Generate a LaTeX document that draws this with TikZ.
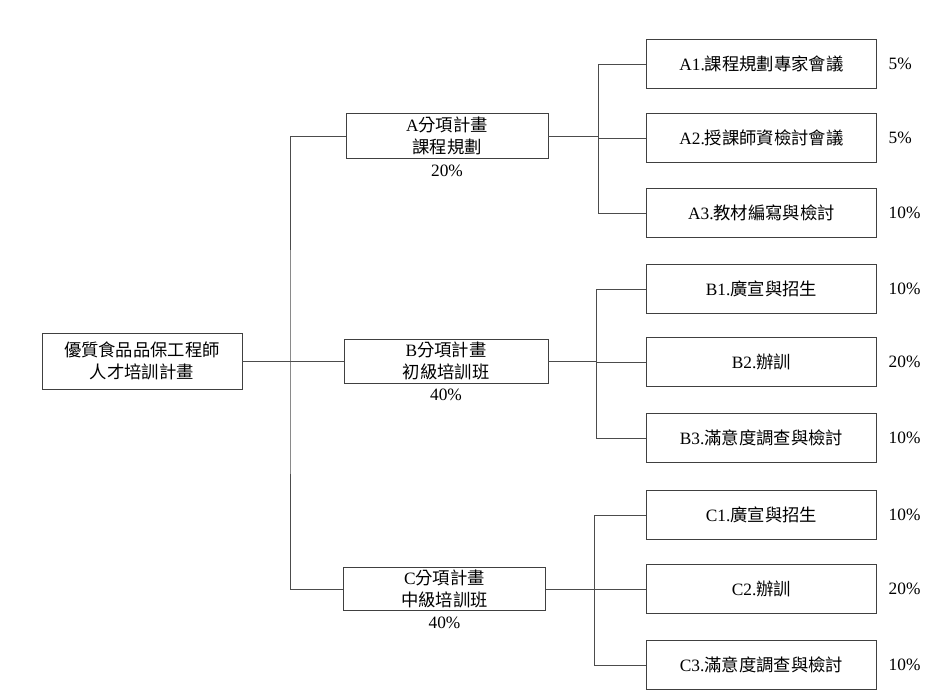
\documentclass[tikz,border=0pt]{standalone}
\usepackage{fontspec}
\setmainfont{Liberation Serif}
\newfontfamily\cjk{Noto Sans CJK TC}
\usetikzlibrary{positioning}

\begin{document}
\begin{tikzpicture}[x=0.75pt,y=0.75pt,yscale=-1,xscale=1,
  planbox/.style={draw=black!75,line width=0.6pt,inner sep=0pt,align=center,font=\fontsize{13}{16}\selectfont},
  pct/.style={font=\fontsize{13}{15}\selectfont},
  link/.style={draw=black!70,line width=0.6pt}]
%set diagram bounds
\useasboundingbox (0,0) rectangle (940,698);

% Root
\node [planbox,minimum width=150pt,minimum height=42pt] (root) at (142,361) {{\cjk 優質食品品保工程師}\\{\cjk 人才培訓計畫}};

% Sub plans
\node [planbox,minimum width=151.5pt,minimum height=34pt] (pa) at (447,136) {A{\cjk 分項計畫}\\{\cjk 課程規劃}};
\node [pct,below=1pt of pa] (pa-pct) {20\%};
\node [planbox,minimum width=153pt,minimum height=33pt] (pb) at (446,361) {B{\cjk 分項計畫}\\{\cjk 初級培訓班}};
\node [pct,below=1pt of pb] (pb-pct) {40\%};
\node [planbox,minimum width=152pt,minimum height=32pt] (pc) at (444.5,589) {C{\cjk 分項計畫}\\{\cjk 中級培訓班}};
\node [pct,below=1pt of pc] (pc-pct) {40\%};

% Work items
\foreach \name/\y/\lab/\p in {
  a1/64/A1.{\cjk 課程規劃專家會議}/5\%,
  a2/138/A2.{\cjk 授課師資檢討會議}/5\%,
  a3/213/A3.{\cjk 教材編寫與檢討}/10\%,
  b1/289/B1.{\cjk 廣宣與招生}/10\%,
  b2/362/B2.{\cjk 辦訓}/20\%,
  b3/438/B3.{\cjk 滿意度調查與檢討}/10\%,
  c1/515/C1.{\cjk 廣宣與招生}/10\%,
  c2/589/C2.{\cjk 辦訓}/20\%,
  c3/665/C3.{\cjk 滿意度調查與檢討}/10\%}{
  \node [planbox,minimum width=172pt,minimum height=37pt] (\name) at (761.5,\y) {\lab};
  \node [pct,anchor=west] (\name-pct) at (884,\y) {\p};
}

% Trunk
\coordinate (trunk) at (290,361);
\draw [link] (root.east) -- (pb.west);
\draw [link] (pa.west) -| (trunk) |- (pc.west);

% Branches
\foreach \up/\k/\x in {pa/a/598,pb/b/596,pc/c/594}{
  \coordinate (\k-bus) at (\x,0);
  \draw [link] (\up.east) -- (\k-bus |- \up.east);
  \draw [link] (\k1.west) -- (\k-bus |- \k1.west) -- (\k-bus |- \k3.west) -- (\k3.west);
  \draw [link] (\k-bus |- \k2.west) -- (\k2.west);
}

\end{tikzpicture}
\end{document}
